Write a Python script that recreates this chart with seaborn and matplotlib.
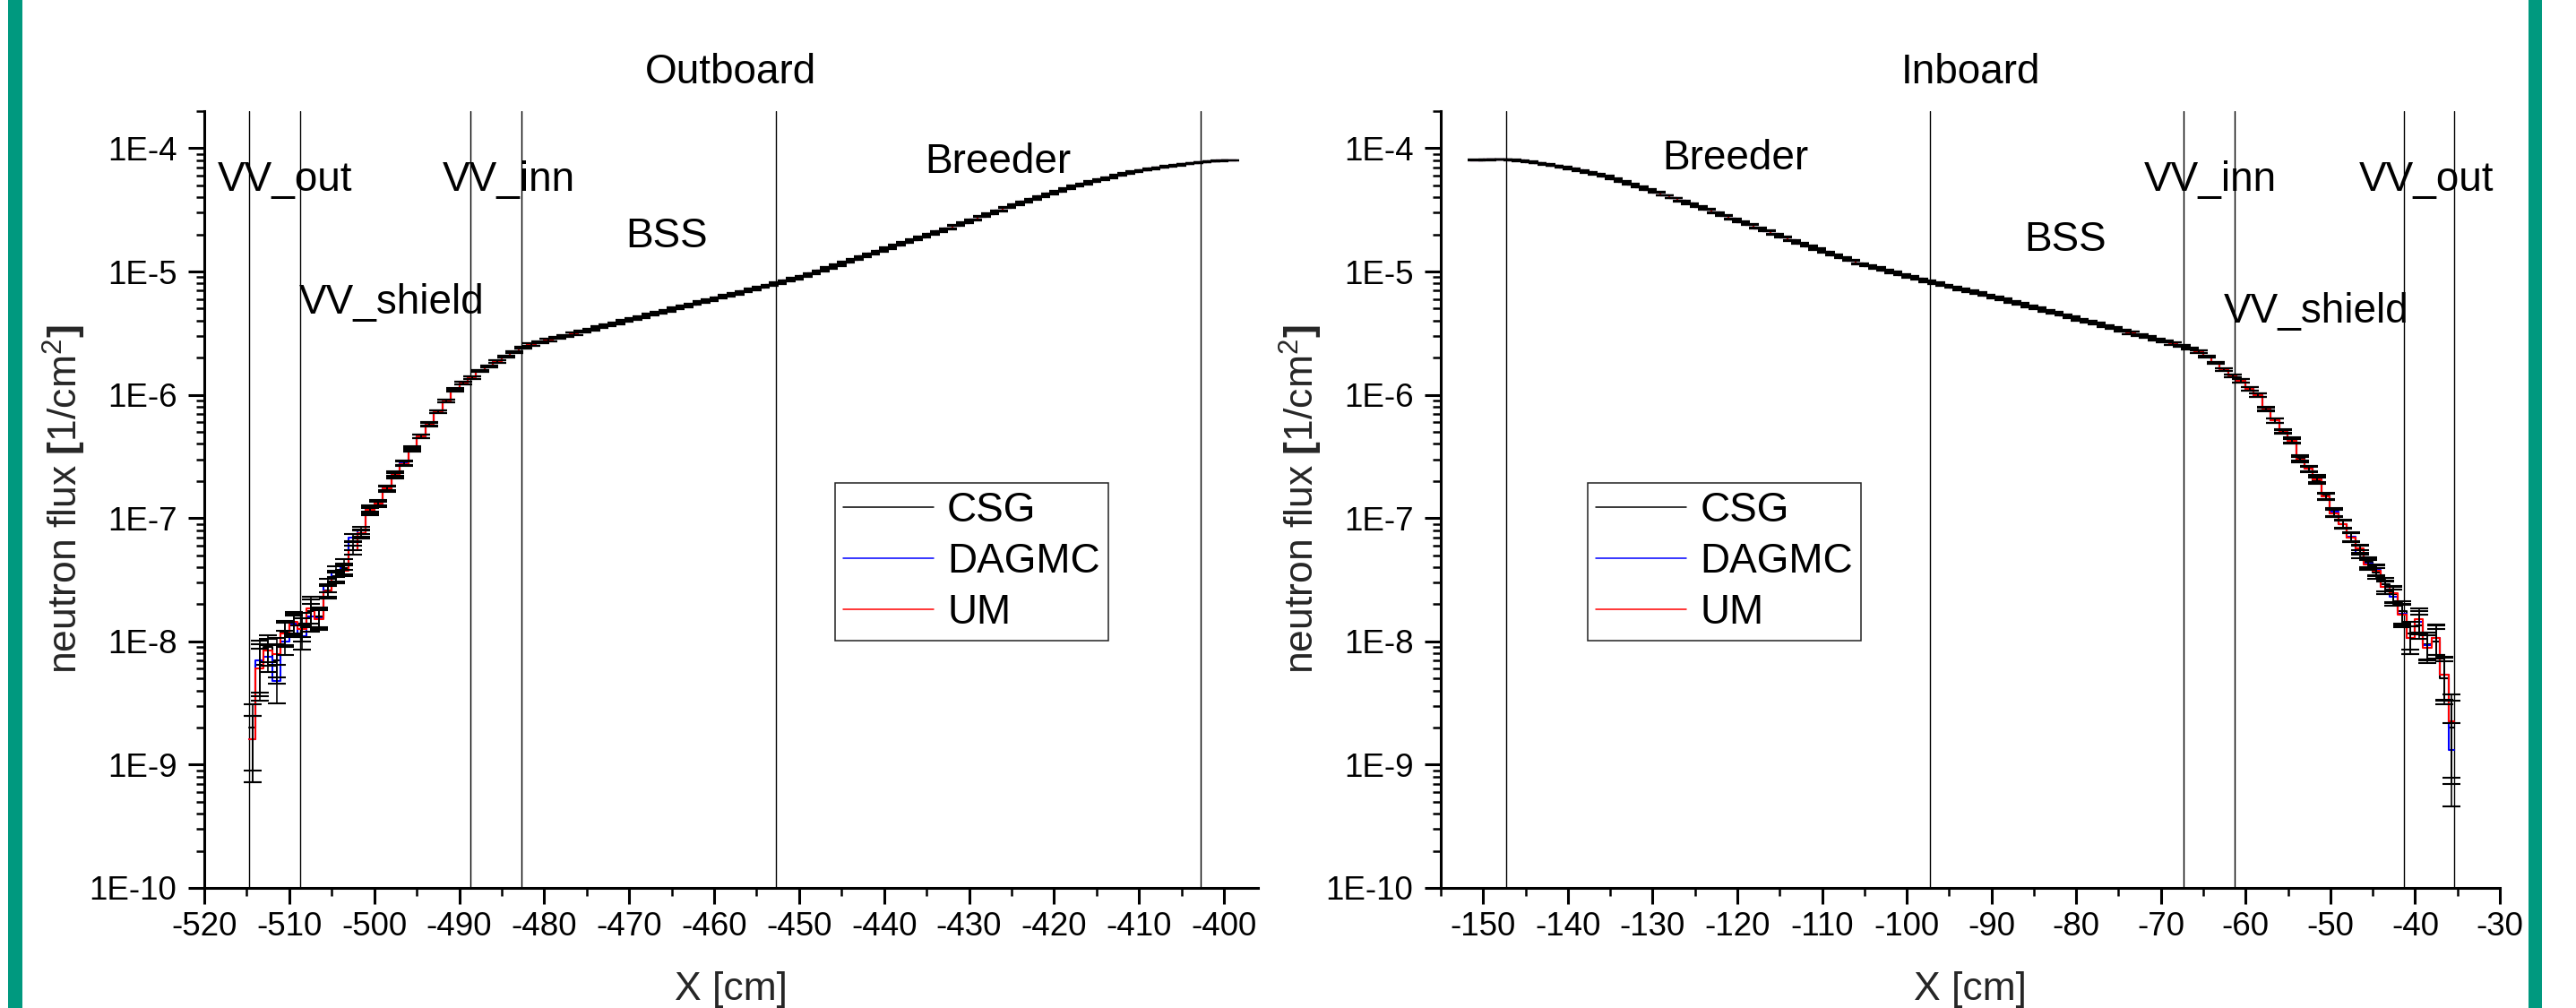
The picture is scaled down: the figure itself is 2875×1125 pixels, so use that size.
import numpy as np
import pandas as pd
import matplotlib
matplotlib.use("Agg")
import matplotlib.pyplot as plt
from matplotlib.lines import Line2D
from matplotlib.patches import Rectangle
from matplotlib.ticker import MultipleLocator, FixedLocator, FuncFormatter, LogLocator, NullFormatter
import seaborn as sns

sns.set_style("ticks")
plt.rcParams["font.family"] = ["Liberation Sans", "DejaVu Sans"]
plt.rcParams["mathtext.fontset"] = "custom"
plt.rcParams["mathtext.rm"] = "Liberation Sans"
plt.rcParams["mathtext.bf"] = "Liberation Sans:bold"
plt.rcParams["axes.edgecolor"] = "black"
plt.rcParams["xtick.color"] = "black"
plt.rcParams["ytick.color"] = "black"
plt.rcParams["text.color"] = "black"
plt.rcParams["axes.unicode_minus"] = False

# ---------------- Outboard (1 cm mesh bins, partial bins at both ends) ----------------
out_edges = [-514.7] + list(range(-514, -399)) + [-398.5]

# bins 0-34 : VV_out, VV_shield, VV_inn (statistics differ per code)
out_deep_csg = [2.0e-9, 6.5e-9, 9.0e-9, 7.0e-9, 1.2e-8, 1.35e-8, 1.4e-8, 1.75e-8, 1.6e-8, 2.6e-8,
                3.4e-8, 3.9e-8, 6.0e-8, 7.4e-8, 1.13e-7, 1.33e-7, 1.72e-7, 2.2e-7, 2.8e-7, 3.6e-7,
                4.6e-7, 5.8e-7, 7.3e-7, 8.9e-7, 1.09e-6, 1.24e-6, 1.38e-6, 1.56e-6, 1.7e-6, 1.86e-6,
                2.04e-6, 2.23e-6, 2.41e-6, 2.56e-6, 2.67e-6]
out_deep_dagmc = [1.6e-9, 7.0e-9, 7.5e-9, 4.8e-9, 1.0e-8, 1.4e-8, 1.1e-8, 1.6e-8, 1.55e-8, 2.85e-8,
                  3.7e-8, 4.2e-8, 6.9e-8, 8.0e-8, 1.2e-7, 1.3e-7, 1.76e-7, 2.3e-7, 2.8e-7, 3.7e-7,
                  4.6e-7, 5.8e-7, 7.3e-7, 8.9e-7, 1.1e-6, 1.24e-6, 1.38e-6, 1.56e-6, 1.7e-6, 1.86e-6,
                  2.04e-6, 2.23e-6, 2.41e-6, 2.56e-6, 2.67e-6]
out_deep_um = [1.6e-9, 6.0e-9, 8.4e-9, 7.9e-9, 1.16e-8, 1.45e-8, 1.27e-8, 1.85e-8, 1.52e-8, 2.53e-8,
               3.3e-8, 3.73e-8, 5.5e-8, 7.6e-8, 1.16e-7, 1.31e-7, 1.74e-7, 2.24e-7, 2.76e-7, 3.6e-7,
               4.6e-7, 5.75e-7, 7.3e-7, 8.9e-7, 1.09e-6, 1.24e-6, 1.38e-6, 1.56e-6, 1.7e-6, 1.86e-6,
               2.04e-6, 2.23e-6, 2.41e-6, 2.56e-6, 2.67e-6]
# bins 35-115 : BSS and breeder (all three codes coincide)
out_smooth = [2.78e-6, 2.89e-6, 3.01e-6, 3.13e-6, 3.25e-6, 3.38e-6, 3.52e-6, 3.66e-6, 3.81e-6, 3.96e-6,
              4.12e-6, 4.29e-6, 4.46e-6, 4.64e-6, 4.82e-6, 5.01e-6, 5.22e-6, 5.43e-6, 5.65e-6, 5.87e-6,
              6.11e-6, 6.35e-6, 6.61e-6, 6.87e-6, 7.16e-6, 7.45e-6, 7.74e-6, 8.05e-6, 8.41e-6, 8.77e-6,
              9.16e-6, 9.60e-6, 1.013e-5, 1.068e-5, 1.126e-5, 1.187e-5, 1.252e-5, 1.321e-5, 1.39e-5, 1.466e-5,
              1.545e-5, 1.63e-5, 1.718e-5, 1.81e-5, 1.905e-5, 2.01e-5, 2.12e-5, 2.23e-5, 2.35e-5, 2.48e-5,
              2.63e-5, 2.78e-5, 2.94e-5, 3.11e-5, 3.29e-5, 3.48e-5, 3.68e-5, 3.86e-5, 4.06e-5, 4.26e-5,
              4.47e-5, 4.70e-5, 4.93e-5, 5.14e-5, 5.35e-5, 5.56e-5, 5.78e-5, 6.01e-5, 6.25e-5, 6.46e-5,
              6.63e-5, 6.81e-5, 6.98e-5, 7.13e-5, 7.29e-5, 7.45e-5, 7.59e-5, 7.71e-5, 7.82e-5, 7.91e-5,
              7.98e-5]
out_relerr = [0.55, 0.45, 0.25, 0.35, 0.22, 0.2, 0.22, 0.25, 0.18, 0.12,
              0.1, 0.1, 0.08, 0.07, 0.06, 0.05, 0.05, 0.045, 0.04, 0.035,
              0.035, 0.03, 0.03, 0.025, 0.025, 0.022, 0.022, 0.022, 0.02, 0.02,
              0.02, 0.02, 0.02, 0.02, 0.02,
              0.019, 0.019, 0.018, 0.018, 0.018, 0.018, 0.017, 0.017, 0.017, 0.017,
              0.016, 0.016, 0.016, 0.016, 0.015, 0.015, 0.015, 0.015, 0.014, 0.014,
              0.014, 0.014, 0.013, 0.013, 0.013, 0.013, 0.012, 0.012,
              0.011, 0.011, 0.011, 0.011, 0.010, 0.010, 0.010, 0.010, 0.010, 0.010,
              0.009, 0.009, 0.009, 0.009, 0.009, 0.009, 0.009, 0.009, 0.008, 0.008,
              0.008, 0.008, 0.008, 0.008, 0.008, 0.008, 0.007, 0.007, 0.007, 0.007,
              0.007, 0.007, 0.007, 0.007, 0.006, 0.006, 0.006, 0.006, 0.006, 0.006,
              0.005, 0.005, 0.005, 0.005, 0.005, 0.005, 0.004, 0.004, 0.004, 0.004,
              0.004, 0.004, 0.004]
out_bounds = [-514.7, -508.7, -488.7, -482.7, -452.7, -402.7]

# ---------------- Inboard ----------------
in_edges = [-151.5] + [round(-150.05 + k, 2) for k in range(115)] + [-35.35]

# bins 0-81 : breeder and BSS
in_smooth = [8.02e-5, 8.05e-5, 8.07e-5, 8.07e-5, 8.02e-5, 7.91e-5, 7.76e-5, 7.59e-5, 7.40e-5, 7.21e-5,
             7.02e-5, 6.81e-5, 6.59e-5, 6.37e-5, 6.17e-5, 5.92e-5, 5.64e-5, 5.36e-5, 5.11e-5, 4.85e-5,
             4.61e-5, 4.38e-5, 4.15e-5, 3.94e-5, 3.73e-5, 3.54e-5, 3.36e-5, 3.18e-5, 3.00e-5, 2.83e-5,
             2.67e-5, 2.53e-5, 2.39e-5, 2.25e-5, 2.13e-5, 2.01e-5, 1.90e-5, 1.79e-5, 1.69e-5, 1.60e-5,
             1.52e-5, 1.44e-5, 1.36e-5, 1.29e-5, 1.23e-5, 1.16e-5, 1.11e-5, 1.07e-5, 1.02e-5, 9.82e-6,
             9.42e-6, 9.06e-6, 8.69e-6, 8.34e-6, 8.02e-6, 7.74e-6, 7.46e-6, 7.19e-6, 6.93e-6, 6.67e-6,
             6.41e-6, 6.17e-6, 5.93e-6, 5.69e-6, 5.46e-6, 5.24e-6, 5.02e-6, 4.82e-6, 4.62e-6, 4.44e-6,
             4.26e-6, 4.08e-6, 3.92e-6, 3.76e-6, 3.61e-6, 3.46e-6, 3.32e-6, 3.18e-6, 3.05e-6, 2.93e-6,
             2.81e-6, 2.70e-6]
# bins 82-115 : VV_inn, VV_shield, VV_out
in_deep_csg = [2.6e-6, 2.5e-6, 2.38e-6, 2.23e-6, 2.04e-6, 1.81e-6, 1.61e-6, 1.43e-6, 1.30e-6, 1.12e-6,
               9.9e-7, 7.7e-7, 6.2e-7, 5.1e-7, 4.2e-7, 3.1e-7, 2.5e-7, 2.0e-7, 1.52e-7, 1.1e-7,
               9.0e-8, 7.0e-8, 5.5e-8, 4.4e-8, 3.6e-8, 2.9e-8, 2.4e-8, 1.75e-8, 1.15e-8, 1.35e-8,
               9.5e-9, 1.0e-8, 5.0e-9, 2.0e-9]
in_deep_dagmc = [2.6e-6, 2.5e-6, 2.38e-6, 2.23e-6, 2.04e-6, 1.81e-6, 1.61e-6, 1.43e-6, 1.30e-6, 1.12e-6,
                 9.95e-7, 7.6e-7, 6.2e-7, 5.0e-7, 4.3e-7, 3.0e-7, 2.52e-7, 2.1e-7, 1.49e-7, 1.12e-7,
                 8.86e-8, 7.1e-8, 5.1e-8, 4.3e-8, 3.82e-8, 2.75e-8, 2.3e-8, 1.67e-8, 1.06e-8, 1.45e-8,
                 9.4e-9, 1.07e-8, 5.4e-9, 1.32e-9]
in_deep_um = [2.6e-6, 2.5e-6, 2.38e-6, 2.23e-6, 2.04e-6, 1.81e-6, 1.61e-6, 1.43e-6, 1.30e-6, 1.12e-6,
              9.95e-7, 7.6e-7, 6.2e-7, 5.0e-7, 4.2e-7, 3.0e-7, 2.52e-7, 2.05e-7, 1.49e-7, 1.09e-7,
              8.86e-8, 6.98e-8, 5.66e-8, 4.2e-8, 3.77e-8, 2.76e-8, 2.45e-8, 1.64e-8, 1.06e-8, 1.51e-8,
              8.9e-9, 1.06e-8, 5.36e-9, 2.25e-9]
in_relerr = [0.004, 0.004, 0.004, 0.004, 0.004, 0.004, 0.004, 0.005, 0.005, 0.005,
             0.005, 0.005, 0.005, 0.006, 0.006, 0.006, 0.006, 0.006, 0.006, 0.007,
             0.007, 0.007, 0.007, 0.007, 0.007, 0.007, 0.007, 0.008, 0.008, 0.008,
             0.008, 0.008, 0.008, 0.008, 0.008, 0.009, 0.009, 0.009, 0.009, 0.009,
             0.009, 0.009, 0.009, 0.010, 0.010, 0.010, 0.010, 0.010, 0.010, 0.011,
             0.011, 0.011, 0.011, 0.011,
             0.012, 0.012, 0.013, 0.013, 0.013, 0.013, 0.014, 0.014, 0.014, 0.014,
             0.015, 0.015, 0.015, 0.015, 0.016, 0.016, 0.016, 0.016, 0.017, 0.017,
             0.017, 0.017, 0.018, 0.018, 0.018, 0.018, 0.019, 0.019,
             0.02, 0.02, 0.02, 0.022, 0.022, 0.022, 0.025, 0.025, 0.03, 0.03,
             0.035, 0.035, 0.04, 0.04, 0.045, 0.05, 0.05, 0.06, 0.06, 0.07,
             0.07, 0.08, 0.08, 0.09, 0.1, 0.12, 0.15, 0.2, 0.25, 0.22,
             0.25, 0.27, 0.38, 0.65]
in_bounds = [-147.3, -97.3, -67.35, -61.35, -41.35, -35.35]

codes = ["CSG", "DAGMC", "UM"]
palette = {"CSG": "black", "DAGMC": "blue", "UM": "red"}

W, H = 2875, 1125
fig = plt.figure(figsize=(W / 100, H / 100), dpi=100)
ax_out = fig.add_axes([228 / W, 134 / H, 1176 / W, 867 / H])
ax_in = fig.add_axes([1608 / W, 134 / H, 1182 / W, 867 / H])


def draw_panel(ax, edges, series, relerr, bounds, xlim, title, notes, legend_xy):
    ax.set_yscale("log")
    edges = np.array(edges, dtype=float)
    frames = []
    for code in codes:
        vals = list(series[code])
        frames.append(pd.DataFrame({"x": edges, "flux": vals + [vals[-1]], "code": code}))
    df = pd.concat(frames, ignore_index=True)
    sns.lineplot(data=df, x="x", y="flux", hue="code", hue_order=codes, palette=palette,
                 drawstyle="steps-post", estimator=None, sort=False, lw=1.5,
                 legend=False, ax=ax, zorder=2)

    centers = (edges[:-1] + edges[1:]) / 2
    err = np.array(relerr)
    for code in codes:
        v = np.array(series[code])
        ax.errorbar(centers, v, yerr=v * err, fmt="none", ecolor="black",
                    elinewidth=1.2, capsize=7, capthick=1.5, zorder=3)

    for b in bounds:
        ax.axvline(b, color="black", lw=1.0, zorder=1)

    ax.set_xlim(*xlim)
    ax.set_ylim(1e-10, 2e-4)
    ax.xaxis.set_major_locator(MultipleLocator(10))
    ax.xaxis.set_minor_locator(MultipleLocator(5))
    ax.yaxis.set_major_locator(FixedLocator([10.0 ** e for e in range(-10, -3)]))
    ax.yaxis.set_major_formatter(FuncFormatter(lambda v, p: "1E%d" % round(np.log10(v))))
    ax.yaxis.set_minor_locator(LogLocator(base=10, subs=np.arange(2, 10), numticks=30))
    ax.yaxis.set_minor_formatter(NullFormatter())

    for side in ("top", "right"):
        ax.spines[side].set_visible(False)
    for side in ("left", "bottom"):
        ax.spines[side].set_linewidth(2.2)
    ax.tick_params(which="major", length=13, width=2.2, direction="out", labelsize=26.5)
    ax.tick_params(which="minor", length=6.5, width=1.8, direction="out")
    ax.tick_params(axis="x", which="major", pad=6)
    ax.tick_params(axis="y", which="major", pad=9)

    ax.set_xlabel("X [cm]", fontsize=32)
    ax.xaxis.set_label_coords(0.5, -0.107)
    ax.set_ylabel(r"neutron flux $\mathbf{[}$1/cm$^{2}$$\mathbf{]}$", fontsize=32)
    ax.yaxis.set_label_coords(-130 / (ax.get_position().width * W), 0.5)
    ax.set_title(title, fontsize=33, pad=22)

    for x, y, s in notes:
        ax.text(x, y, s, fontsize=33, ha="left", va="baseline", zorder=4)

    handles = [Line2D([], [], color=palette[c], lw=1.1) for c in codes]
    leg = ax.legend(handles, codes, loc="upper left", bbox_to_anchor=legend_xy,
                    borderaxespad=0, fontsize=33, frameon=True, fancybox=False,
                    framealpha=1, edgecolor="#222222", handlelength=2.2,
                    handletextpad=0.33, borderpad=0.2, labelspacing=0.28)
    leg.get_frame().set_linewidth(1.1)


out_series = {"CSG": out_deep_csg + out_smooth,
              "DAGMC": out_deep_dagmc + out_smooth,
              "UM": out_deep_um + out_smooth}
in_series = {"CSG": in_smooth + in_deep_csg,
             "DAGMC": in_smooth + in_deep_dagmc,
             "UM": in_smooth + in_deep_um}

out_notes = [(-518.4, 4.48e-5, "VV_out"), (-491.95, 4.48e-5, "VV_inn"),
             (-508.85, 4.54e-6, "VV_shield"), (-470.4, 1.57e-5, "BSS"),
             (-435.2, 6.29e-5, "Breeder")]
in_notes = [(-128.9, 6.7e-5, "Breeder"), (-86.1, 1.46e-5, "BSS"),
            (-72.0, 4.48e-5, "VV_inn"), (-46.66, 4.48e-5, "VV_out"),
            (-62.58, 3.84e-6, "VV_shield")]

draw_panel(ax_out, out_edges, out_series, out_relerr, out_bounds, (-520, -396),
           "Outboard", out_notes, (0.5986, 0.5213))
draw_panel(ax_in, in_edges, in_series, in_relerr, in_bounds, (-155, -30),
           "Inboard", in_notes, (0.139, 0.5213))

# green side bars of the slide
fig.add_artist(Rectangle((9 / W, 0), 16 / W, 1, transform=fig.transFigure,
                         color="#00997f", lw=0))
fig.add_artist(Rectangle((2822 / W, 0), 15 / W, 1, transform=fig.transFigure,
                         color="#00997f", lw=0))

fig.savefig("out.png", dpi=100)
plt.close(fig)
